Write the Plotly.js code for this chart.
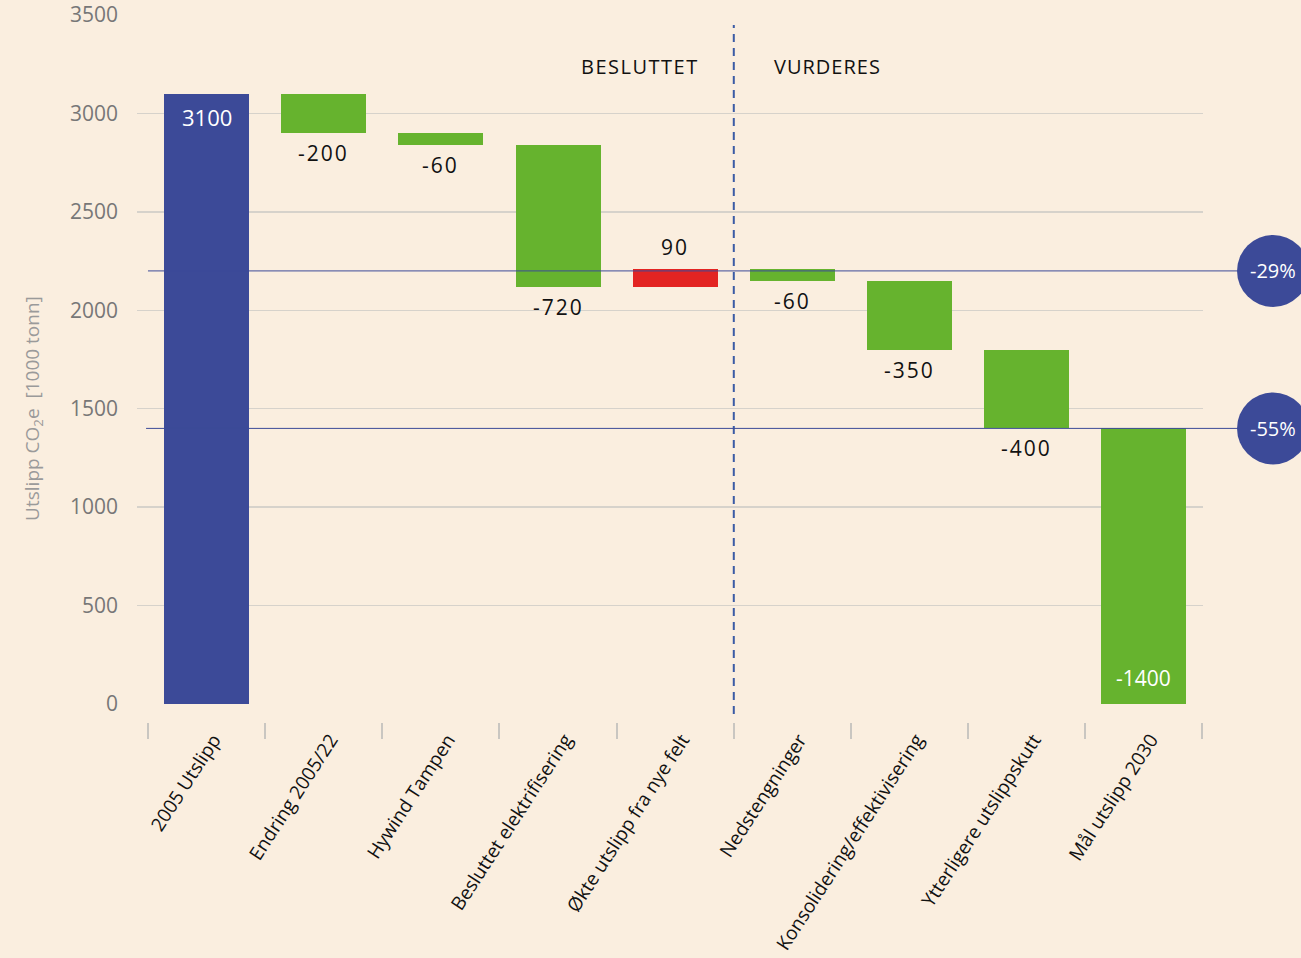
<!DOCTYPE html>
<html>
<head>
<meta charset="utf-8">
<script src="https://cdn.plot.ly/plotly-3.0.1.min.js"></script>
<style>
  html, body { margin: 0; padding: 0; background: #FAEEDF; }
  #chart { width: 1301px; height: 958px; }
</style>
</head>
<body>
<div id="chart"></div>
<script>
// ---- data ----
const categories = [
  "2005 Utslipp", "Endring 2005/22", "Hywind Tampen", "Besluttet elektrifisering",
  "Økte utslipp fra nye felt", "Nedstengninger", "Konsolidering/effektivisering",
  "Ytterligere utslippskutt", "Mål utslipp 2030"
];
const measures = ["total", "relative", "relative", "relative", "relative", "relative", "relative", "relative", "total"];
const changes = [3100, -200, -60, -720, 90, -60, -350, -400, null];
const valueLabels = ["3100", "-200", "-60", "-720", "90", "-60", "-350", "-400", "-1400"];
const targetLabels = ["-29%", "-55%"];
const targetValues = [2200, 1400];
const sectionLabels = ["BESLUTTET", "VURDERES"];
const dividerAfterIndex = 4;
const yTitle = "Utslipp CO<sub>2</sub>e  [1000 tonn]";

// ---- colours ----
const BLUE = "#3C4A98", GREEN = "#66B32E", RED = "#E32422", BG = "#FAEEDF";

// ---- build floating bars ----
let running = 0;
const bases = [], heights = [], colors = [];
measures.forEach((m, i) => {
  if (m === "total") {
    if (changes[i] !== null) running = changes[i];
    bases.push(0); heights.push(running);
    colors.push(i === 0 ? BLUE : GREEN);
  } else {
    const v = changes[i];
    const lo = v < 0 ? running + v : running;
    bases.push(lo); heights.push(Math.abs(v));
    colors.push(v < 0 ? GREEN : RED);
    running += v;
  }
});

const trace = {
  type: "bar", x: categories, y: heights, base: bases,
  width: 0.725, marker: { color: colors, line: { width: 0 } },
  hoverinfo: "skip", showlegend: false
};

const FONT = "'Open Sans', 'Noto Sans', sans-serif";
const annotations = [];
measures.forEach((m, i) => {
  const top = bases[i] + heights[i], bottom = bases[i];
  let a;
  if (i === 0) {
    a = { y: top, yshift: -23, color: "#FFFFFF", size: 22 };
  } else if (i === measures.length - 1) {
    a = { y: bottom, yshift: 26, color: "#FFFFFF", size: 21 };
  } else if (changes[i] < 0) {
    a = { y: bottom, yshift: -20, color: "#111111", size: 21 };
  } else {
    a = { y: top, yshift: 22, color: "#111111", size: 21 };
  }
  const spaced = (m !== "total");
  annotations.push({
    x: i, y: a.y, xref: "x", yref: "y", yshift: a.yshift,
    text: spaced ? '<span style="letter-spacing:2px">' + valueLabels[i] + '</span>' : valueLabels[i],
    showarrow: false, xanchor: "center", yanchor: "middle",
    font: { family: FONT, size: a.size, color: a.color }
  });
});
// section labels
annotations.push({
  x: dividerAfterIndex + 0.5, xref: "x", y: 3236, yref: "y", xanchor: "right", xshift: -33,
  text: '<span style="letter-spacing:1.5px">' + sectionLabels[0] + '</span>', showarrow: false,
  font: { family: FONT, size: 20, color: "#111111" }
});
annotations.push({
  x: dividerAfterIndex + 0.5, xref: "x", y: 3236, yref: "y", xanchor: "left", xshift: 38,
  text: '<span style="letter-spacing:1px">' + sectionLabels[1] + '</span>', showarrow: false,
  font: { family: FONT, size: 20, color: "#111111" }
});
// y axis title (placed as annotation to match off-centre position)
annotations.push({
  x: -0.0976, xref: "paper", y: 1504, yref: "y", textangle: -90,
  text: yTitle, showarrow: false, xanchor: "center", yanchor: "middle",
  font: { family: FONT, size: 19, color: "#9A9A9A" }
});

const shapes = [];
// divider
shapes.push({
  type: "line", xref: "x", yref: "paper",
  x0: dividerAfterIndex + 0.5, x1: dividerAfterIndex + 0.5, y0: 0.2508, y1: 0.9893,
  line: { color: "#3B5BA5", width: 2, dash: "8px,6px" }, layer: "above"
});
const circX = 1.0657;
targetValues.forEach((v, k) => {
  shapes.push({
    type: "line", xref: "paper", yref: "y", x0: k === 0 ? 0.0103 : 0.0085, x1: 1.2, y0: v, y1: v,
    line: { color: BLUE, width: 1 }, layer: "above"
  });
  shapes.push({
    type: "circle", xref: "paper", yref: "y",
    xsizemode: "pixel", ysizemode: "pixel", xanchor: circX, yanchor: v,
    x0: -36, x1: 36, y0: -36, y1: 36,
    fillcolor: BLUE, line: { width: 0 }, layer: "above"
  });
  annotations.push({
    x: circX, xref: "paper", y: v, yref: "y", text: targetLabels[k], showarrow: false,
    xanchor: "center", yanchor: "middle",
    font: { family: FONT, size: 20, color: "#FFFFFF" }
  });
});

const layout = {
  width: 1301, height: 958,
  paper_bgcolor: BG, plot_bgcolor: BG,
  margin: { l: 137, r: 98, t: 15, b: 10 },
  showlegend: false,
  bargap: 0,
  xaxis: {
    type: "category",
    range: [-0.594, 8.505],
    tickangle: -57, tickson: "boundaries",
    ticks: "outside", ticklen: 16, tickwidth: 2, tickcolor: "#C9C6C1",
    ticklabelstandoff: 2, ticklabelshift: 7,
    showgrid: false, zeroline: false, showline: false,
    anchor: "free", position: 0.2422,
    tickfont: { family: FONT, size: 19, color: "#111111" },
    fixedrange: true
  },
  yaxis: {
    domain: [0.26153, 1],
    range: [0, 3500], dtick: 500, tick0: 0,
    showgrid: true, gridcolor: "#D6D2CB", gridwidth: 1.5,
    zeroline: false, showline: false, ticks: "",
    ticklabelstandoff: 18,
    tickfont: { family: FONT, size: 21, color: "#777777" },
    fixedrange: true
  },
  shapes: shapes,
  annotations: annotations
};

Plotly.newPlot("chart", [trace], layout, { displayModeBar: false, staticPlot: true });
</script>
</body>
</html>
